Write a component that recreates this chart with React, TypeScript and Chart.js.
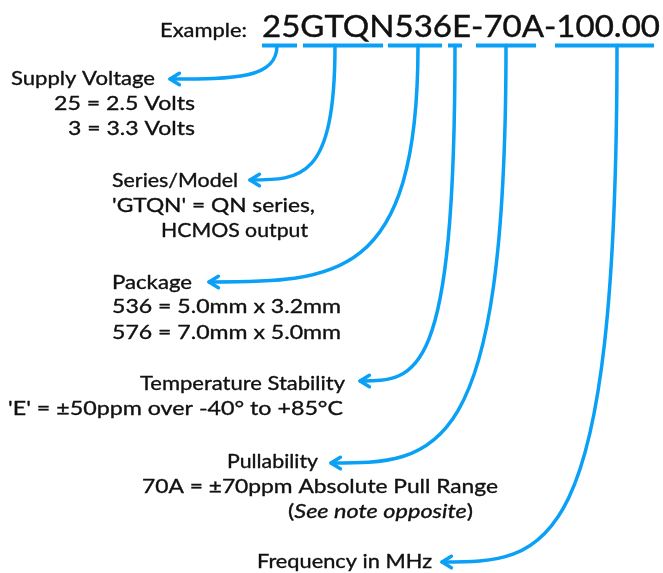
import React, { useEffect, useRef } from "react";
import { Chart, registerables } from "chart.js";

Chart.register(...registerables);

// ---- content ----
const exampleLabel = "Example:";
const partNumber = "25GTQN536E-70A-100.00";
const codeSegments = ["25", "GTQN", "536", "E", "70A", "100.00"];

// one entry per text line: runs of [text, italic]
const textLines: [string, boolean][][] = [
  [["Supply Voltage", false]],
  [["25 = 2.5 Volts", false]],
  [["3 = 3.3 Volts", false]],
  [["Series/Model", false]],
  [["'GTQN' = QN series,", false]],
  [["HCMOS output", false]],
  [["Package", false]],
  [["536 = 5.0mm x 3.2mm", false]],
  [["576 = 7.0mm x 5.0mm", false]],
  [["Temperature Stability", false]],
  [["'E' = \u00b150ppm over -40\u00b0 to +85\u00b0C", false]],
  [["Pullability", false]],
  [["70A = \u00b170ppm Absolute Pull Range", false]],
  [["(", false], ["See note opposite", true], [")", false]],
  [["Frequency in MHz", false]],
];

// ---- layout (in the hidden axes' units) ----
const textLeft = [11, 54, 68, 112, 112, 161, 112, 112, 112, 140, 8, 227, 142, 288, 257];
const textBase = [85, 110, 135, 187, 212, 237, 289, 313, 339, 390, 415, 468, 493, 518, 568];
const textWidth = [144, 141, 127, 126, 203, 147, 80, 229, 229, 205, 335, 91, 356, 185, 175];

const headerLeft = [160, 262];
const headerBase = [37, 37];
const headerWidth = [87, 398];

const underlineY = 45.5;
const segStart = [262, 303, 388, 448, 476, 555];
const segEnd = [297, 383, 442, 462, 536, 654];
const stemX = [277, 335, 418, 455, 506, 617];
const tipX = [170, 250, 209, 360, 331, 442];
const tipY = [79, 180, 282, 381, 463, 562];

const BLUE = "#0aa0f5";
const INK = "#111111";
const FONT = "Lato, 'Noto Sans', sans-serif";

function drawRuns(ctx, runs, left, base, width, size, embolden) {
  const fontFor = (it) => `${it ? "italic " : ""}${size}px ${FONT}`;
  let total = 0;
  for (const [t, it] of runs) {
    ctx.font = fontFor(it);
    total += ctx.measureText(t).width;
  }
  const s = width / total;
  ctx.save();
  ctx.translate(left, base);
  ctx.scale(s, 1);
  ctx.lineWidth = embolden;
  ctx.strokeStyle = INK;
  ctx.lineJoin = "round";
  let xx = 0;
  for (const [t, it] of runs) {
    ctx.font = fontFor(it);
    ctx.fillText(t, xx, 0);
    if (embolden > 0) ctx.strokeText(t, xx, 0);
    xx += ctx.measureText(t).width;
  }
  ctx.restore();
}

const diagramPlugin = {
  id: "diagram",
  afterDatasetsDraw(chart) {
    const { ctx } = chart;
    const sx = chart.scales.x;
    const sy = chart.scales.y;
    const px = (v) => sx.getPixelForValue(v);
    const py = (v) => sy.getPixelForValue(v);
    ctx.save();
    ctx.strokeStyle = BLUE;
    ctx.lineWidth = 3.5;
    ctx.lineCap = "round";
    ctx.lineJoin = "round";
    for (let i = 0; i < codeSegments.length; i++) {
      const x0 = px(stemX[i]);
      const y0 = py(underlineY);
      const x3 = px(tipX[i]);
      const y3 = py(tipY[i]);
      const c1x = x0, c1y = y3;
      const c2x = x3 + 0.6 * (x0 - x3), c2y = y3;
      ctx.beginPath();
      ctx.moveTo(x0, y0);
      ctx.bezierCurveTo(c1x, c1y, c2x, c2y, x3, y3);
      ctx.stroke();
      const ang = Math.atan2(y3 - c2y, x3 - c2x);
      const L = 11, a = 0.55;
      ctx.beginPath();
      ctx.moveTo(x3 - L * Math.cos(ang - a), y3 - L * Math.sin(ang - a));
      ctx.lineTo(x3, y3);
      ctx.lineTo(x3 - L * Math.cos(ang + a), y3 - L * Math.sin(ang + a));
      ctx.stroke();
    }
    ctx.fillStyle = INK;
    ctx.textBaseline = "alphabetic";
    ctx.textAlign = "left";
    drawRuns(ctx, [[exampleLabel, false]], px(headerLeft[0]), py(headerBase[0]), headerWidth[0], 19, 0.35);
    drawRuns(ctx, [[partNumber, false]], px(headerLeft[1]), py(headerBase[1]), headerWidth[1], 30, 0.4);
    for (let i = 0; i < textLines.length; i++) {
      drawRuns(ctx, textLines[i], px(textLeft[i]), py(textBase[i]), textWidth[i], 19.5, 0.35);
    }
    ctx.restore();
  },
};

export default function App() {
  const ref = useRef<HTMLCanvasElement | null>(null);
  useEffect(() => {
    if (!ref.current) return;
    const datasets = codeSegments.map((code, i) => ({
      label: code,
      data: [
        { x: segStart[i], y: underlineY },
        { x: segEnd[i], y: underlineY },
      ],
      showLine: true,
      borderColor: BLUE,
      backgroundColor: BLUE,
      borderWidth: 4,
      borderCapStyle: "butt",
      pointRadius: 0,
      pointHoverRadius: 0,
    }));
    const chart = new Chart(ref.current, {
      type: "scatter",
      data: { datasets },
      options: {
        animation: false,
        responsive: false,
        maintainAspectRatio: false,
        devicePixelRatio: 1,
        layout: { padding: 0 },
        events: [],
        plugins: { legend: { display: false }, tooltip: { enabled: false } },
        scales: {
          x: { type: "linear", min: 0, max: 663, display: false },
          y: { type: "linear", min: 0, max: 573, reverse: true, display: false },
        },
      },
      plugins: [diagramPlugin],
    });
    return () => chart.destroy();
  }, []);
  return (
    <div style={{ position: "absolute", left: 0, top: 0, width: 663, height: 573, background: "#fff" }}>
      <canvas ref={ref} width={663} height={573} style={{ display: "block" }} />
    </div>
  );
}
